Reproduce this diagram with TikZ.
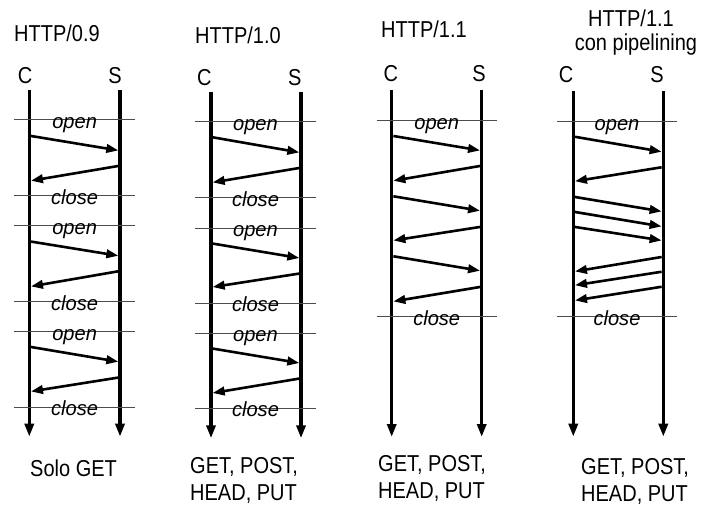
\documentclass[tikz,border=0pt]{standalone}
\usepackage{fontspec}
\setmainfont{Liberation Sans}
\usetikzlibrary{arrows.meta,calc}
\newcommand\wtxt[1]{\scalebox{1}[1.15]{#1}}
\newcommand\itxt[1]{\scalebox{1.03}[1.05]{#1}}
\newcommand\lifeln[4]{\coordinate (#1t) at (#2,#3);\coordinate (#1b) at (#2,#4);\draw[life] (#1t) -- (#1b);}
\newcommand\sepln[5]{\coordinate (#1l) at (#2,#4);\coordinate (#1r) at (#3,#4);\draw[sepline] (#1l) -- (#1r);\node[lbl] (#1x) at ($(#1l)!0.5!(#1r)+(0,8.5)$) {\itxt{#5}};}
\newcommand\msgln[5]{\coordinate (#1a) at (#2,#3);\coordinate (#1b) at (#4,#5);\draw[msg] (#1a) -- (#1b);}
\begin{document}
\begin{tikzpicture}[x=1pt,y=-1pt,
  life/.style={line width=3.4pt,-{Triangle[length=13pt,width=9pt]}},
  msg/.style={line width=2.6pt,-{Triangle[length=12pt,width=8.5pt]},shorten <=1.7pt,shorten >=1.7pt},
  sepline/.style={line width=1pt,black!70},
  lbl/.style={anchor=base,inner sep=0,font=\itshape\fontsize{19.5}{20}\selectfont},
  hd/.style={anchor=base,inner sep=0,font=\fontsize{20}{21}\selectfont},
  hdw/.style={anchor=base west,inner sep=0,font=\fontsize{20}{23.5}\selectfont}]
\useasboundingbox[fill=white] (0,0) rectangle (701,510);

% ---------- Column 1: HTTP/0.9
\node[hdw] (t1) at (14,42) {\wtxt{HTTP/0.9}};
\node[hd] (c1) at (25,84) {\wtxt{C}};
\node[hd] (s1) at (115,84) {\wtxt{S}};
\lifeln{a1C}{29.3}{90}{436.7}
\lifeln{a1S}{120}{90}{436.7}
\sepln{a1p1}{14.3}{135}{120}{open}
\sepln{a1c1}{14.3}{135}{195.7}{close}
\sepln{a1p2}{14.3}{135}{226}{open}
\sepln{a1c2}{14.3}{135}{301.7}{close}
\sepln{a1p3}{14.3}{135}{331.7}{open}
\sepln{a1c3}{14.3}{135}{407.3}{close}
\msgln{a1m1}{29.3}{135.7}{120}{150.7}
\msgln{a1m2}{120}{165.7}{29.3}{181}
\msgln{a1m3}{29.3}{241.3}{120}{256}
\msgln{a1m4}{120}{271}{29.3}{286.7}
\msgln{a1m5}{29.3}{346.7}{120}{362}
\msgln{a1m6}{120}{377.3}{29.3}{391.7}
\node[hdw] (b1) at (30,476) {\wtxt{Solo GET}};

% ---------- Column 2: HTTP/1.0
\node[hdw] (t2) at (195,44) {\wtxt{HTTP/1.0}};
\node[hd] (c2) at (204.3,86) {\wtxt{C}};
\node[hd] (s2) at (294.7,86) {\wtxt{S}};
\lifeln{a2C}{211}{92}{438.3}
\lifeln{a2S}{301}{92}{438.3}
\sepln{a2p1}{195}{316}{122}{open}
\sepln{a2c1}{195}{316}{197.7}{close}
\sepln{a2p2}{195}{316}{228.3}{open}
\sepln{a2c2}{195}{316}{303.3}{close}
\sepln{a2p3}{195}{316}{333.3}{open}
\sepln{a2c3}{195}{316}{408.3}{close}
\msgln{a2m1}{211}{137}{301}{152.7}
\msgln{a2m2}{301}{167.7}{211}{182.7}
\msgln{a2m3}{211}{243.3}{301}{258.3}
\msgln{a2m4}{301}{273.3}{211}{287.3}
\msgln{a2m5}{211}{348.3}{301}{363.3}
\msgln{a2m6}{301}{378.3}{211}{393.3}
\node[hdw] (b2) at (190,473) {\wtxt{\begin{tabular}[t]{@{}l@{}}GET, POST,\\HEAD, PUT\end{tabular}}};

% ---------- Column 3: HTTP/1.1
\node[hdw] (t3) at (381,38) {\wtxt{HTTP/1.1}};
\node[hd] (c3) at (390.8,82) {\wtxt{C}};
\node[hd] (s3) at (479,82) {\wtxt{S}};
\lifeln{a3C}{391.7}{90}{437}
\lifeln{a3S}{481.7}{90}{437}
\sepln{a3p1}{376.7}{496.7}{120.7}{open}
\sepln{a3c1}{376.7}{496.7}{316.7}{close}
\msgln{a3m1}{391.7}{135.7}{481.7}{150.7}
\msgln{a3m2}{481.7}{165.7}{391.7}{181}
\msgln{a3m3}{391.7}{196}{481.7}{211}
\msgln{a3m4}{481.7}{226.7}{391.7}{240.7}
\msgln{a3m5}{391.7}{256}{481.7}{271}
\msgln{a3m6}{481.7}{286.7}{391.7}{301.7}
\node[hdw] (b3) at (378,471) {\wtxt{\begin{tabular}[t]{@{}l@{}}GET, POST,\\HEAD, PUT\end{tabular}}};

% ---------- Column 4: HTTP/1.1 con pipelining
\node[hd] (t4) at (631,27) {\wtxt{HTTP/1.1}};
\node[hd] (t4b) at (636,51) {\wtxt{con pipelining}};
\node[hd] (c4) at (566,83) {\wtxt{C}};
\node[hd] (s4) at (657,83) {\wtxt{S}};
\lifeln{a4C}{573.3}{91}{436.7}
\lifeln{a4S}{663.3}{91}{436.7}
\sepln{a4p1}{557}{677}{122}{open}
\sepln{a4c1}{557}{677}{316.7}{close}
\msgln{a4m1}{573.3}{136.5}{663.3}{152}
\msgln{a4m2}{663.3}{167}{573.3}{181.5}
\msgln{a4m3}{573.3}{196.7}{663.3}{211.7}
\msgln{a4m4}{573.3}{211.7}{663.3}{226.7}
\msgln{a4m5}{573.3}{226.7}{663.3}{240.7}
\msgln{a4m6}{663.3}{256.7}{573.3}{271.7}
\msgln{a4m7}{663.3}{271.5}{573.3}{285.5}
\msgln{a4m8}{663.3}{286.5}{573.3}{300.7}
\node[hdw] (b4) at (581,474) {\wtxt{\begin{tabular}[t]{@{}l@{}}GET, POST,\\HEAD, PUT\end{tabular}}};
\end{tikzpicture}
\end{document}
